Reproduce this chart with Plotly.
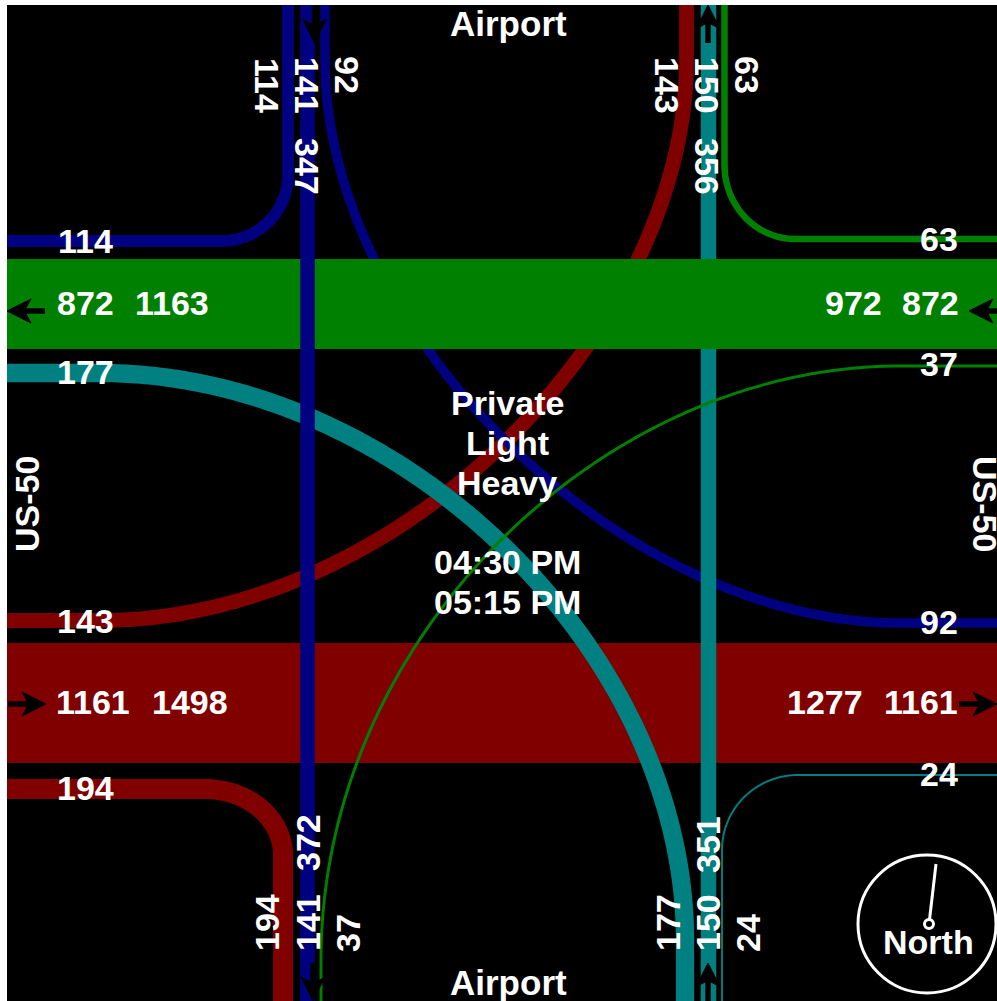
import numpy as np
import plotly.graph_objects as go

# ---- traffic volumes (vehicles) ----
WB_THROUGH, WB_IN, WB_OUT = 872, 972, 1163
EB_THROUGH, EB_IN, EB_OUT = 1161, 1498, 1277
NB_THROUGH, NB_IN, NB_OUT = 150, 351, 356
SB_THROUGH, SB_IN, SB_OUT = 141, 347, 372
TURN_WN = 114
TURN_NE = 92
TURN_NW = 143
TURN_EN = 63
TURN_WS = 177
TURN_ES = 37
TURN_WSO = 194
TURN_ESO = 24

PX_PER_VEH = 0.1033
NAVY, TEAL, MAROON, GREEN = "#000080", "#008080", "#800000", "#008000"
FONT = "Liberation Sans"
FS = 34

# road layout, in the diagram's own coordinates
LEFT, RIGHT, TOP, BOTTOM = 7, 997, 5, 1001
X_SB, X_NB = 307.5, 708.5
Y_WB, Y_EB = 304, 703


def width(v):
    return v * PX_PER_VEH if v >= 50 else v * 0.08


def bezier(p0, p1, p2, p3, n=200):
    t = np.linspace(0, 1, n)[:, None]
    p = [np.array(q, float) for q in (p0, p1, p2, p3)]
    return (1 - t) ** 3 * p[0] + 3 * (1 - t) ** 2 * t * p[1] + 3 * (1 - t) * t ** 2 * p[2] + t ** 3 * p[3]


def corner(p_from, p_to, n=80):
    """Quarter ellipse; leaves p_from horizontally and arrives at p_to vertically."""
    a = np.linspace(0, np.pi / 2, n)
    dx, dy = p_to[0] - p_from[0], p_to[1] - p_from[1]
    return np.column_stack([p_from[0] + dx * np.sin(a), p_to[1] - dy * np.cos(a)])


def turn_path(start, curve, end):
    xy = np.vstack([[start], curve, [end]])
    return xy[:, 0], xy[:, 1]


fig = go.Figure()


def add_line(xy, color, v):
    fig.add_trace(go.Scatter(x=xy[0], y=xy[1], mode="lines",
                             line=dict(color=color, width=width(v), simplify=False),
                             hoverinfo="skip", showlegend=False))


# sweeping turns and roads, back to front
add_line(turn_path((LEFT, 620.5), bezier((100, 620.5), (400, 620.5), (686.5, 330), (686.5, 60)), (686.5, TOP)),
         MAROON, TURN_NW)
add_line(turn_path((325, TOP), bezier((325, 60), (325, 330), (620, 623), (900, 623)), (RIGHT, 623)),
         NAVY, TURN_NE)
add_line(([LEFT, RIGHT], [Y_EB, Y_EB]), MAROON, EB_THROUGH)
add_line(([X_NB, X_NB], [TOP, BOTTOM]), TEAL, NB_THROUGH)
add_line(turn_path((LEFT, 373), bezier((100, 373), (400, 373), (685, 650), (685, 940)), (685, BOTTOM)),
         TEAL, TURN_WS)
add_line(turn_path((RIGHT, 366), bezier((900, 366), (600, 366), (321, 640), (321, 960)), (321, BOTTOM)),
         GREEN, TURN_ES)
add_line(([LEFT, RIGHT], [Y_WB, Y_WB]), GREEN, WB_THROUGH)
add_line(([X_SB, X_SB], [TOP, BOTTOM]), NAVY, SB_THROUGH)
add_line(turn_path((LEFT, 241), corner((222, 241), (288, 175)), (288, TOP)), NAVY, TURN_WN)
add_line(turn_path((RIGHT, 239), corner((795, 239), (724.5, 165)), (724.5, TOP)), GREEN, TURN_EN)
add_line(turn_path((LEFT, 789), corner((205, 789), (283, 855)), (283, BOTTOM)), MAROON, TURN_WSO)
add_line(turn_path((RIGHT, 775), corner((798, 775), (722, 850)), (722, BOTTOM)), TEAL, TURN_ESO)


def arrow(tip, direction):
    """Black arrow: tip position and unit direction of travel."""
    d = np.array(direction, float)
    n = np.array([-d[1], d[0]])
    tip = np.array(tip, float)
    pts = [tip, tip - 24 * d + 12 * n, tip - 19 * d + 3 * n, tip - 19 * d - 3 * n, tip - 24 * d - 12 * n, tip]
    poly = np.array(pts)
    fig.add_trace(go.Scatter(x=poly[:, 0], y=poly[:, 1], mode="lines", fill="toself",
                             fillcolor="black", line=dict(color="black", width=1),
                             hoverinfo="skip", showlegend=False))
    shaft = np.array([tip - 18 * d, tip - 38 * d])
    fig.add_trace(go.Scatter(x=shaft[:, 0], y=shaft[:, 1], mode="lines",
                             line=dict(color="black", width=5.5),
                             hoverinfo="skip", showlegend=False))


arrow((7, 311), (-1, 0))
arrow((969, 311), (-1, 0))
arrow((46, 704), (1, 0))
arrow((997, 704), (1, 0))
arrow((708, 5), (0, -1))
arrow((708, 963), (0, -1))
arrow((314.5, 43), (0, 1))
arrow((313, 1001), (0, 1))

ann = []


def label(x, y, text, angle=0, size=FS):
    ann.append(dict(x=x, y=y - 1 if angle == 0 else y, text=str(text), showarrow=False, textangle=angle,
                    xanchor="center", yanchor="middle",
                    font=dict(family=FONT, size=size, color="white", weight="bold")))


# west leg
label(85, 242, TURN_WN); label(85, 372.5, TURN_WS); label(85, 621.5, TURN_NW); label(85, 788.5, TURN_WSO)
label(85, 303.5, WB_THROUGH); label(171.5, 303.5, WB_OUT)
label(93, 703, EB_THROUGH); label(190, 703, EB_IN)
# east leg
label(939, 240, TURN_EN); label(939, 365, TURN_ES); label(939, 623, TURN_NE); label(939, 775, TURN_ESO)
label(853, 303.5, WB_IN); label(930, 303.5, WB_THROUGH)
label(825, 703, EB_OUT); label(921, 703, EB_THROUGH)
# north leg
label(267, 85, TURN_WN, 90); label(307, 85, SB_THROUGH, 90); label(347, 75, TURN_NE, 90)
label(307, 166, SB_IN, 90)
label(667, 85, TURN_NW, 90); label(707, 85, NB_THROUGH, 90); label(747, 75, TURN_EN, 90)
label(707, 166, NB_OUT, 90)
# south leg
label(267, 923, TURN_WSO, -90); label(308, 923, SB_THROUGH, -90); label(348, 933, TURN_ES, -90)
label(308, 843, SB_OUT, -90)
label(668, 923, TURN_WS, -90); label(708, 923, NB_THROUGH, -90); label(748, 933, TURN_ESO, -90)
label(708, 845, NB_IN, -90)
# names and centre block
label(508, 24, "Airport", size=35); label(508, 983, "Airport", size=35)
label(27, 504, "US-50", -90); label(985, 504, "US-50", 90)
label(507, 404, "Private"); label(507, 444, "Light"); label(507, 484, "Heavy")
label(507, 563, "04:30 PM"); label(507, 603, "05:15 PM")
label(928, 943, "North")

white = dict(color="white", width=3)
shapes = [
    dict(type="circle", x0=858, x1=996, y0=855, y1=993, line=white, layer="above"),
    dict(type="line", x0=929, y0=924, x1=936, y1=864, line=white, layer="above"),
    dict(type="circle", x0=924.5, x1=933.5, y0=919.5, y1=928.5, line=white, fillcolor="black", layer="above"),
]

fig.update_layout(
    width=997, height=1001,
    margin=dict(l=LEFT, r=0, t=TOP, b=0, pad=0),
    paper_bgcolor="white", plot_bgcolor="black",
    xaxis=dict(range=[LEFT, RIGHT], visible=False, fixedrange=True),
    yaxis=dict(range=[BOTTOM, TOP], visible=False, fixedrange=True),
    showlegend=False, annotations=ann, shapes=shapes,
)
fig.write_html("out.html", config=dict(displayModeBar=False),
               post_script="document.body.style.margin='0';document.body.style.overflow='hidden';")
